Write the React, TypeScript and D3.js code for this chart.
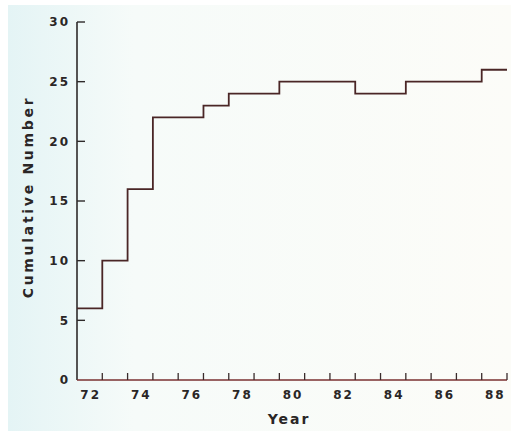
import React from "react";
import * as d3 from "d3";

// years and cumulative count
const years = [72, 73, 74, 75, 76, 77, 78, 79, 80, 81, 82, 83, 84, 85, 86, 87, 88];
const counts = [6, 10, 16, 22, 22, 23, 24, 24, 25, 25, 25, 24, 24, 25, 25, 25, 26];
const yTicks = [0, 5, 10, 15, 20, 25, 30];
const xLabels = [72, 74, 76, 78, 80, 82, 84, 86, 88];

const W = 515;
const H = 434;
const font = "'DejaVu Sans', Arial, sans-serif";

const App = () => {
  const x = d3.scaleLinear().domain([71.5, 88.5]).range([77, 507]);
  const y = d3.scaleLinear().domain([0, 30]).range([380, 22]);

  // steps change at year boundaries
  const pts: [number, number][] = years.map((yr, i) => [yr - 0.5, counts[i]]);
  pts.push([years[years.length - 1] + 0.5, counts[counts.length - 1]]);
  const line = d3
    .line<[number, number]>()
    .x(d => x(d[0]))
    .y(d => y(d[1]))
    .curve(d3.curveStepAfter);

  const xTicks = years.map(yr => yr + 0.5);

  return (
    <svg width={W} height={H} style={{ position: "absolute", left: 0, top: 0 }}>
      <defs>
        <linearGradient id="bg" x1="0" x2="1" y1="0" y2="0">
          <stop offset="0" stopColor="#e4f4f5" />
          <stop offset="0.25" stopColor="#f6fbf9" />
          <stop offset="1" stopColor="#fcfcf8" />
        </linearGradient>
      </defs>
      <rect width={W} height={H} fill="#ffffff" />
      <rect x={8} y={5} width={W - 12} height={H - 8} fill="url(#bg)" />

      {/* y axis */}
      <line x1={x(71.5)} x2={x(71.5)} y1={y(0)} y2={y(30)} stroke="#2e2a2a" strokeWidth={1.6} />
      {yTicks.filter(t => t > 0).map(t => (
        <line key={t} x1={x(71.5)} x2={x(71.5) + 8} y1={y(t)} y2={y(t)} stroke="#2e2a2a" strokeWidth={1.4} />
      ))}
      {yTicks.map(t => (
        <text
          key={t}
          x={70}
          y={y(t)}
          dy="0.36em"
          textAnchor="end"
          fontFamily={font}
          fontWeight="bold"
          fontSize={12}
          letterSpacing={2}
          fill="#2a2626"
        >
          {t}
        </text>
      ))}

      {/* x axis */}
      <line x1={x(71.5)} x2={x(88.5)} y1={y(0)} y2={y(0)} stroke="#7a3030" strokeWidth={1.6} />
      {xTicks.map(t => (
        <line key={t} x1={x(t)} x2={x(t)} y1={y(0)} y2={y(0) - 7} stroke="#3a2c2c" strokeWidth={1.3} />
      ))}
      {xLabels.map(t => (
        <text
          key={t}
          x={x(t) + 1}
          y={399}
          textAnchor="middle"
          fontFamily={font}
          fontWeight="bold"
          fontSize={12}
          letterSpacing={2}
          fill="#2a2626"
        >
          {t}
        </text>
      ))}

      <path d={line(pts) ?? ""} fill="none" stroke="#4a2626" strokeWidth={1.8} />

      <text
        x={289}
        y={424}
        textAnchor="middle"
        fontFamily={font}
        fontWeight="bold"
        fontSize={14}
        letterSpacing={2}
        fill="#2a2626"
      >
        Year
      </text>
      <text
        transform="translate(33,197) rotate(-90)"
        textAnchor="middle"
        fontFamily={font}
        fontWeight="bold"
        fontSize={14}
        letterSpacing={2.7}
        fill="#2a2626"
      >
        Cumulative Number
      </text>
    </svg>
  );
};

export default App;
